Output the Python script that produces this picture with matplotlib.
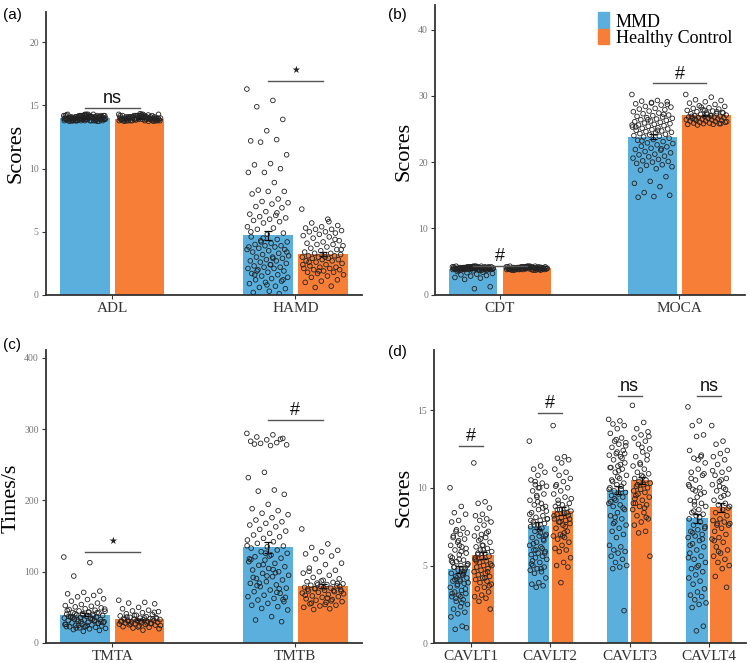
import numpy as np
import matplotlib
matplotlib.use("Agg")
import matplotlib.pyplot as plt
from matplotlib.patches import Rectangle

BLUE = "#5AAFDC"
ORANGE = "#F67E36"
SERIF = "Liberation Serif"
SANS = "Liberation Sans"

# ---- panel (a) ----
CATS_A = ["ADL", "HAMD"]
MEAN_MMD_A = [14.0, 4.72]
MEAN_HC_A = [13.97, 3.24]
SEM_MMD_A = [0.03, 0.35]
SEM_HC_A = [0.03, 0.15]
SIG_A = ["ns", "\u2605"]
SIGY_A = [14.8, 16.95]

PTS_ADL_MMD = [14.2, 13.8, 14.0, 14.1, 13.9, 14.3, 13.8, 14.0, 14.2, 13.9, 14.1, 13.75, 14.0, 14.2, 13.8,
               14.1, 13.9, 14.3, 14.0, 13.8, 14.2, 13.9, 14.1, 14.0, 13.75, 14.2, 13.9, 14.0, 14.1, 13.8,
               14.3, 14.0, 13.9, 14.2, 13.8, 14.1, 14.0, 13.9, 14.25, 13.8, 14.0, 14.1, 13.9, 14.3, 13.8,
               14.0, 14.2, 13.9, 14.1, 13.8, 14.0, 14.2, 13.75, 14.1, 13.9, 14.0, 14.2, 13.8, 14.1, 14.0,
               13.9, 14.3, 13.8, 14.0, 14.1, 13.9, 14.2, 13.8, 14.0, 14.15, 13.9, 14.2, 13.8, 14.0, 14.1,
               13.9, 14.2, 14.0, 13.8, 14.1, 13.9, 14.25, 14.0, 13.8, 14.1, 13.9, 14.05, 13.85, 14.15, 13.95]
PTS_ADL_HC = [14.3, 13.8, 14.1, 14.0, 13.9, 14.2, 13.75, 14.0, 14.3, 13.9, 14.1, 13.8, 14.0, 14.2, 13.9,
              14.1, 13.8, 14.35, 14.0, 13.9, 14.2, 13.8, 14.1, 14.0, 13.75, 14.2, 13.9, 14.0, 14.1, 13.8,
              14.3, 14.0, 13.9, 14.2, 13.8, 14.1, 14.0, 13.9, 14.2, 13.8, 14.0, 14.1, 13.9, 14.3, 13.8,
              14.0, 14.2, 13.9, 14.1, 13.8, 14.0, 14.2, 13.75, 14.1, 13.9, 14.0, 14.2, 13.8, 14.1, 14.0,
              13.9, 14.25, 13.8, 14.0, 14.1, 13.9, 14.2, 13.85, 14.05, 13.95]
PTS_HAMD_MMD = [16.3, 15.4, 14.9, 13.9, 13.0, 12.2, 12.3, 12.1, 11.1, 10.4, 10.3, 10.0, 9.7, 9.7, 8.9,
                8.3, 8.2, 8.2, 8.0, 7.6, 7.4, 7.3, 7.2, 7.0, 6.9, 6.6, 6.4, 6.3, 6.2, 6.1, 6.0, 5.9, 5.8,
                5.7, 5.4, 5.3, 5.2, 4.9, 4.8, 4.6, 4.4, 4.2, 4.2, 4.1, 4.0, 3.9, 3.9, 3.8, 3.8, 3.7, 3.6,
                3.5, 3.4, 3.3, 3.2, 3.1, 3.0, 3.0, 2.9, 2.8, 2.7, 2.7, 2.6, 2.5, 2.4, 2.3, 2.2, 2.2, 2.1,
                2.1, 2.0, 1.9, 1.8, 1.7, 1.6, 1.5, 1.4, 1.3, 1.2, 1.1, 1.0, 0.9, 0.7, 0.6, 0.5, 0.3, 0.2,
                0.1, 4.5, 3.6, 2.9, 1.9, 1.2, 0.8, 5.0, 6.5, 4.3, 3.4, 2.4, 1.6]
PTS_HAMD_HC = [6.8, 6.0, 5.7, 5.5, 5.4, 5.3, 5.2, 5.2, 5.1, 5.0, 5.0, 4.9, 4.8, 4.7, 4.6, 4.5, 4.3, 4.2,
               4.1, 4.0, 4.0, 3.9, 3.8, 3.7, 3.6, 3.5, 3.4, 3.3, 3.3, 3.2, 3.2, 3.1, 3.1, 3.0, 3.0, 2.9,
               2.9, 2.8, 2.8, 2.7, 2.7, 2.6, 2.5, 2.4, 2.3, 2.2, 2.2, 2.1, 2.1, 2.0, 2.0, 1.9, 1.8, 1.8,
               1.7, 1.6, 1.5, 1.4, 1.2, 1.1, 1.0, 0.7, 0.6, 3.6, 3.0, 2.6, 4.4, 1.9, 2.4, 5.8]

# ---- panel (b) ----
CATS_B = ["CDT", "MOCA"]
MEAN_MMD_B = [3.83, 23.83]
MEAN_HC_B = [3.98, 27.06]
SEM_MMD_B = [0.06, 0.35]
SEM_HC_B = [0.03, 0.12]
SIG_B = ["#", "#"]
SIGY_B = [4.4, 31.9]

PTS_CDT_MMD = [4.2, 3.8, 4.0, 4.1, 3.9, 4.3, 3.7, 4.0, 4.2, 3.9, 4.1, 3.8, 4.0, 4.2, 3.7, 4.1, 3.9,
               4.3, 4.0, 3.8, 4.2, 3.9, 4.1, 4.0, 3.7, 4.2, 3.9, 4.0, 4.1, 3.8, 4.3, 4.0, 3.9, 4.2,
               3.8, 4.1, 4.0, 3.9, 4.2, 3.8, 4.0, 4.1, 3.9, 4.3, 3.7, 4.0, 4.2, 3.9, 4.1, 3.8, 4.0,
               4.2, 3.7, 4.1, 3.9, 4.0, 4.2, 3.8, 4.1, 4.0, 3.9, 4.3, 3.8, 4.0, 4.1, 3.9, 4.2, 3.8,
               4.0, 4.1, 3.9, 4.2, 3.6, 3.5, 3.4, 3.3, 3.2, 3.1, 3.0, 2.9, 2.8, 2.6, 2.5, 2.3, 1.2, 0.9]
PTS_CDT_HC = [4.2, 3.8, 4.0, 4.1, 3.9, 4.3, 3.7, 4.0, 4.2, 3.9, 4.1, 3.8, 4.0, 4.2, 3.7, 4.1, 3.9,
              4.3, 4.0, 3.8, 4.2, 3.9, 4.1, 4.0, 3.7, 4.2, 3.9, 4.0, 4.1, 3.8, 4.3, 4.0, 3.9, 4.2,
              3.8, 4.1, 4.0, 3.9, 4.2, 3.8, 4.0, 4.1, 3.9, 4.3, 3.7, 4.0, 4.2, 3.9, 4.1, 3.8, 4.0,
              4.2, 3.7, 4.1, 3.9, 4.0, 4.2, 3.8, 4.1, 4.0, 3.9, 4.3, 3.8, 4.0, 4.1, 3.9, 4.2, 3.8]
PTS_MOCA_MMD = [30.2, 29.3, 29.2, 29.1, 28.9, 28.8, 28.6, 28.4, 28.3, 28.1, 28.0, 27.9, 27.7, 27.6,
                27.4, 27.3, 27.1, 27.0, 26.9, 26.8, 26.7, 26.6, 26.5, 26.4, 26.3, 26.2, 26.1, 26.0,
                25.9, 25.8, 25.7, 25.6, 25.5, 25.4, 25.3, 25.2, 25.1, 25.0, 24.9, 24.8, 24.7, 24.6,
                24.5, 24.4, 24.3, 24.2, 24.1, 24.0, 23.9, 23.8, 23.6, 23.4, 23.3, 23.1, 22.9, 22.8,
                22.6, 22.4, 22.3, 22.1, 21.9, 21.8, 21.6, 21.4, 21.2, 21.1, 20.9, 20.8, 20.6, 20.4,
                20.2, 20.1, 20.0, 19.8, 19.6, 19.5, 19.3, 19.0, 18.8, 17.8, 17.1, 16.8, 16.3, 15.4,
                15.0, 14.8, 14.7, 27.2, 26.4, 25.6, 24.8, 23.2, 28.7, 29.0, 25.3, 22.0]
PTS_MOCA_HC = [30.2, 29.8, 29.4, 29.3, 29.1, 28.9, 28.7, 28.5, 28.4, 28.2, 28.1, 28.0, 27.9, 27.8,
               27.7, 27.6, 27.5, 27.4, 27.3, 27.3, 27.2, 27.1, 27.0, 27.0, 26.9, 26.9, 26.8, 26.8,
               26.7, 26.7, 26.6, 26.6, 26.5, 26.5, 26.4, 26.4, 26.3, 26.3, 26.2, 26.2, 26.1, 26.0,
               26.0, 25.9, 25.9, 25.8, 25.8, 25.7, 25.7, 25.6, 27.4, 27.2, 26.9, 27.6, 28.3, 26.1,
               27.0, 26.5, 25.8, 27.8]

# ---- panel (c) ----
CATS_C = ["TMTA", "TMTB"]
MEAN_MMD_C = [39.9, 134.3]
MEAN_HC_C = [33.3, 79.8]
SEM_MMD_C = [2.0, 7.5]
SEM_HC_C = [1.0, 2.5]
SIG_C = ["\u2605", "#"]
SIGY_C = [127.6, 313.0]

PTS_TMTA_MMD = [120.6, 112.7, 93.9, 72.8, 71.0, 69.0, 66.7, 64.8, 62.0, 61.0, 58.7, 56.0, 54.0, 52.5,
                51.6, 50.7, 49.3, 48.0, 47.0, 46.0, 45.0, 44.6, 43.5, 42.8, 42.0, 41.2, 40.5, 40.0,
                39.3, 38.6, 37.6, 37.0, 36.2, 35.5, 35.0, 34.2, 33.6, 32.9, 32.2, 31.5, 31.0, 30.4,
                29.8, 29.0, 28.2, 27.5, 27.0, 26.2, 25.5, 24.8, 24.0, 23.5, 22.8, 22.0, 21.3, 20.5,
                19.8, 18.8, 17.6, 16.4, 45.5, 38.0, 33.0, 28.5, 24.5, 36.5, 42.5, 30.0, 26.0, 34.8,
                41.0, 29.5, 22.5, 37.2, 31.8, 25.0, 47.5, 43.0, 35.8, 27.8, 39.8, 23.0, 33.4, 21.0]
PTS_TMTA_HC = [60.0, 57.0, 56.0, 55.0, 50.0, 48.0, 46.0, 45.0, 44.0, 42.5, 41.0, 40.0, 39.0, 38.0,
               37.0, 36.0, 35.5, 35.0, 34.5, 34.0, 33.5, 33.0, 32.5, 32.0, 31.5, 31.0, 30.5, 30.0,
               29.5, 29.0, 28.5, 28.0, 27.5, 27.0, 26.5, 26.0, 25.5, 25.0, 24.0, 23.0, 22.0, 21.0,
               20.0, 18.0, 36.5, 33.8, 31.2, 29.8, 28.2, 26.8, 34.2, 30.8, 32.8, 27.2, 38.5, 24.5,
               35.2, 30.2, 43.0, 22.5]
PTS_TMTB_MMD = [294.0, 292.0, 289.0, 287.0, 285.0, 283.0, 281.0, 280.0, 278.0, 277.0, 279.0, 286.0,
                239.4, 232.0, 214.6, 213.0, 208.5, 194.5, 188.4, 185.6, 182.0, 180.0, 175.8, 172.5,
                170.0, 167.8, 165.5, 163.0, 159.4, 157.0, 153.8, 151.5, 149.0, 146.8, 144.5, 142.0,
                139.8, 136.0, 135.0, 133.0, 130.4, 128.0, 125.8, 123.4, 121.0, 119.0, 116.4, 114.0,
                111.7, 109.0, 107.0, 104.5, 102.4, 100.0, 97.7, 95.0, 93.0, 90.5, 88.4, 86.0, 83.7,
                81.5, 79.0, 77.0, 74.3, 72.0, 69.7, 67.0, 65.0, 62.5, 60.3, 58.0, 55.6, 53.0, 51.0,
                48.5, 46.3, 37.0, 32.3, 29.9, 126.0, 118.0, 98.5, 84.0, 64.0, 122.0, 92.0, 76.0,
                110.0, 136.5, 103.0, 80.5, 61.0, 94.0, 117.0, 71.0]
PTS_TMTB_HC = [160.0, 139.0, 134.0, 130.0, 128.0, 125.0, 122.0, 118.0, 112.0, 110.0, 105.0, 102.0,
               100.0, 98.0, 95.0, 92.0, 90.0, 88.0, 86.0, 85.0, 84.0, 83.0, 82.0, 81.0, 80.0, 79.0,
               78.0, 77.0, 76.0, 75.0, 74.0, 73.0, 72.0, 71.0, 70.0, 68.0, 66.0, 65.0, 64.0, 62.0,
               61.0, 60.0, 58.0, 57.0, 55.0, 53.0, 52.0, 50.0, 48.0, 47.0, 79.5, 77.5, 75.5, 73.5,
               81.5, 69.0, 63.0, 56.0, 83.5, 87.0, 67.0, 59.0, 76.5, 72.5, 54.0, 100.5]

# ---- panel (d) ----
CATS_D = ["CAVLT1", "CAVLT2", "CAVLT3", "CAVLT4"]
MEAN_MMD_D = [4.75, 7.56, 9.85, 8.03]
MEAN_HC_D = [5.67, 8.5, 10.47, 8.74]
SEM_MMD_D = [0.2, 0.22, 0.28, 0.3]
SEM_HC_D = [0.22, 0.25, 0.25, 0.3]
SIG_D = ["#", "#", "ns", "ns"]
SIGY_D = [12.7, 14.83, 15.9, 15.9]

PTS_CAV1_MMD = [10.0, 8.8, 8.4, 8.3, 7.9, 7.8, 7.4, 7.2, 7.1, 7.0, 6.9, 6.7, 6.5, 6.3, 6.2, 6.0, 5.8,
                5.7, 5.5, 5.35, 5.25, 5.1, 5.0, 4.9, 4.8, 4.7, 4.5, 4.4, 4.3, 4.2, 4.1, 4.0, 3.85, 3.7,
                3.6, 3.4, 3.3, 3.2, 3.1, 3.0, 2.8, 2.7, 2.5, 2.35, 2.2, 2.0, 1.9, 1.7, 1.1, 0.9, 1.0,
                6.3, 5.2, 4.6, 4.2, 3.9, 5.9, 4.9, 3.5, 6.6, 5.3, 4.4, 2.9, 5.0, 4.0, 6.8, 4.7, 3.8,
                5.6, 2.6, 4.1, 6.1, 5.4, 3.2, 4.5, 7.3, 5.1, 3.0]
PTS_CAV1_HC = [11.6, 9.1, 9.0, 8.7, 8.3, 8.2, 8.0, 7.9, 7.8, 7.6, 7.4, 7.2, 7.0, 6.9, 6.8, 6.6, 6.5,
               6.3, 6.2, 6.1, 6.0, 5.9, 5.8, 5.7, 5.6, 5.5, 5.4, 5.3, 5.2, 5.1, 5.0, 4.9, 4.8, 4.7,
               4.6, 4.5, 4.4, 4.3, 4.2, 4.1, 4.0, 3.9, 3.8, 3.6, 3.5, 3.3, 3.1, 3.0, 2.9, 2.7, 2.2,
               6.0, 5.3, 4.6, 6.7, 5.0, 4.2, 5.8, 3.7, 6.3, 5.5, 7.1]
PTS_CAV2_MMD = [13.0, 11.4, 11.2, 11.0, 10.8, 10.5, 10.3, 10.2, 10.1, 10.0, 9.8, 9.6, 9.4, 9.2, 9.0,
                8.9, 8.8, 8.6, 8.4, 8.2, 8.1, 8.0, 7.9, 7.8, 7.7, 7.6, 7.5, 7.4, 7.2, 7.0, 6.9, 6.8,
                6.7, 6.5, 6.3, 6.2, 6.0, 5.9, 5.8, 5.7, 5.6, 5.5, 5.4, 5.2, 5.0, 4.9, 4.8, 4.7, 4.6,
                4.5, 4.2, 3.9, 3.8, 3.7, 3.6, 8.0, 7.1, 6.4, 5.8, 9.1, 7.9, 6.1, 10.4, 8.5, 7.3, 5.3,
                6.6, 9.5, 8.3, 4.8, 7.6, 6.9, 10.0, 5.1, 8.7, 6.0]
PTS_CAV2_HC = [14.0, 12.0, 11.9, 11.8, 11.6, 11.2, 11.0, 10.8, 10.6, 10.4, 10.2, 10.0, 9.8, 9.6, 9.4,
               9.2, 9.0, 8.9, 8.8, 8.7, 8.6, 8.5, 8.4, 8.3, 8.2, 8.1, 8.0, 7.9, 7.8, 7.7, 7.6, 7.4,
               7.2, 7.0, 6.9, 6.8, 6.7, 6.5, 6.3, 6.1, 6.0, 5.9, 5.5, 5.2, 5.0, 4.9, 3.9, 8.2, 7.5,
               9.0, 8.0, 6.9, 10.1, 8.4, 7.8, 9.3, 7.1, 8.6]
PTS_CAV3_MMD = [14.4, 14.3, 14.1, 14.0, 13.8, 13.5, 13.2, 13.0, 12.9, 12.8, 12.6, 12.4, 12.2, 12.1,
                12.0, 11.8, 11.6, 11.4, 11.3, 11.2, 11.0, 10.8, 10.6, 10.4, 10.3, 10.2, 10.0, 9.9,
                9.8, 9.7, 9.6, 9.5, 9.4, 9.2, 9.0, 8.9, 8.8, 8.6, 8.4, 8.2, 8.0, 7.8, 7.6, 7.4, 7.2,
                7.0, 6.8, 6.3, 6.2, 6.0, 5.9, 5.8, 5.6, 5.4, 5.2, 5.0, 4.9, 4.8, 2.1, 12.3, 11.3,
                10.1, 9.3, 12.7, 11.1, 10.5, 8.7, 13.1, 9.9, 11.5, 7.7, 12.2, 10.7, 9.1, 11.9, 8.1]
PTS_CAV3_HC = [15.3, 14.2, 13.8, 13.6, 13.4, 13.2, 13.0, 12.8, 12.5, 12.3, 12.0, 11.8, 11.6, 11.4,
               11.2, 11.0, 10.9, 10.8, 10.6, 10.5, 10.4, 10.3, 10.2, 10.1, 10.0, 9.9, 9.8, 9.7, 9.6,
               9.4, 9.2, 9.0, 8.9, 8.8, 8.6, 8.4, 8.2, 8.0, 7.8, 7.6, 7.2, 7.1, 5.6, 10.7, 9.5,
               12.1, 11.5, 9.0, 8.7, 10.2, 13.3, 12.6, 9.3, 8.1]
PTS_CAV4_MMD = [15.2, 14.3, 14.0, 13.4, 13.3, 12.4, 12.0, 11.9, 11.6, 11.2, 11.0, 10.8, 10.5, 10.2,
                10.0, 9.9, 9.7, 9.4, 9.2, 9.0, 8.9, 8.8, 8.6, 8.4, 8.3, 8.2, 8.0, 7.8, 7.6, 7.4, 7.3,
                7.2, 7.0, 6.9, 6.8, 6.6, 6.4, 6.2, 6.0, 5.8, 5.6, 5.4, 5.2, 5.0, 4.8, 4.6, 4.4, 4.2,
                4.0, 3.8, 3.5, 3.3, 3.1, 3.0, 2.8, 2.6, 2.5, 2.3, 1.1, 0.8, 10.1, 9.6, 8.5, 7.5,
                11.8, 10.6, 6.7, 9.8, 5.5, 8.1, 7.1, 10.9, 4.9, 6.3, 12.1, 9.1]
PTS_CAV4_HC = [14.0, 13.0, 12.8, 12.4, 12.2, 12.0, 11.8, 11.5, 11.2, 11.0, 10.8, 10.6, 10.4, 10.2,
               10.0, 9.8, 9.6, 9.4, 9.2, 9.0, 8.9, 8.8, 8.6, 8.4, 8.2, 8.0, 7.9, 7.8, 7.7, 7.6, 7.4,
               7.2, 7.0, 6.8, 6.7, 6.5, 6.2, 6.0, 5.8, 5.6, 5.4, 5.2, 5.0, 4.8, 4.3, 3.6, 10.1,
               11.1, 9.5, 7.6, 8.7, 10.5, 6.6, 9.9, 5.9, 7.7]


def jitter(n, half):
    # spread points over the bar width (deterministic positions)
    return ((np.arange(n) * 0.6180339887) % 1.0 - 0.5) * 2 * half


def panel(ax, cats, m_mmd, m_hc, s_mmd, s_hc, pts_mmd, pts_hc, sig, sigy, ylim, yticks, xlim):
    x = np.arange(1, len(cats) + 1)
    off = 0.15
    w = 0.27
    ax.bar(x - off, m_mmd, w, color=BLUE, zorder=1)
    ax.bar(x + off, m_hc, w, color=ORANGE, zorder=1)
    ax.errorbar(x - off, m_mmd, yerr=s_mmd, fmt="none", ecolor="black", elinewidth=0.9,
                capsize=3, capthick=0.9, zorder=2)
    ax.errorbar(x + off, m_hc, yerr=s_hc, fmt="none", ecolor="black", elinewidth=0.9,
                capsize=3, capthick=0.9, zorder=2)
    for i in range(len(cats)):
        for pts, xc in ((pts_mmd[i], x[i] - off), (pts_hc[i], x[i] + off)):
            pts = np.asarray(pts)
            ax.scatter(xc + jitter(len(pts), 0.115), pts, s=11, facecolors="none",
                       edgecolors="#222222", linewidths=0.6, zorder=3)
        ax.plot([x[i] - off, x[i] + off], [sigy[i], sigy[i]], color="#555555", lw=1.0, zorder=4)
        if sig[i] == "\u2605":
            ax.text(x[i], sigy[i] + (ylim[1] * 0.022), sig[i], ha="center", va="bottom",
                    fontsize=7, family="DejaVu Sans", color="#222222", zorder=5)
        else:
            ax.text(x[i], sigy[i] + ylim[1] * 0.002, sig[i], ha="center", va="bottom",
                    fontsize=13, family=SANS, color="#111111", zorder=5)
    ax.set_xlim(*xlim)
    ax.set_ylim(*ylim)
    ax.set_xticks(x)
    ax.set_xticklabels(cats, family=SERIF, fontsize=11, color="#333333")
    ax.set_yticks(yticks)
    ax.set_yticklabels([str(t) for t in yticks], family=SERIF, fontsize=7, color="#777777")
    ax.tick_params(axis="both", length=3, width=0.8, color="#333333", pad=2)
    for s in ("top", "right"):
        ax.spines[s].set_visible(False)
    for s in ("left", "bottom"):
        ax.spines[s].set_color("#333333")
        ax.spines[s].set_linewidth(1.3)


W, H = 750, 663
fig = plt.figure(figsize=(W / 100, H / 100), dpi=100)


def box(l, r, t, b):
    return [l / W, 1 - b / H, (r - l) / W, (b - t) / H]


ax_a = fig.add_axes(box(45.7, 362, 12, 295))
ax_b = fig.add_axes(box(435, 745, 5, 294.7))
ax_c = fig.add_axes(box(45.7, 362, 350, 643))
ax_d = fig.add_axes(box(434, 746, 350, 643.3))

panel(ax_a, CATS_A, MEAN_MMD_A, MEAN_HC_A, SEM_MMD_A, SEM_HC_A,
      [PTS_ADL_MMD, PTS_HAMD_MMD], [PTS_ADL_HC, PTS_HAMD_HC], SIG_A, SIGY_A,
      (0, 22.4), [0, 5, 10, 15, 20], (0.636, 2.364))
panel(ax_b, CATS_B, MEAN_MMD_B, MEAN_HC_B, SEM_MMD_B, SEM_HC_B,
      [PTS_CDT_MMD, PTS_MOCA_MMD], [PTS_CDT_HC, PTS_MOCA_HC], SIG_B, SIGY_B,
      (0, 43.7), [0, 10, 20, 30, 40], (0.638, 2.365))
panel(ax_c, CATS_C, MEAN_MMD_C, MEAN_HC_C, SEM_MMD_C, SEM_HC_C,
      [PTS_TMTA_MMD, PTS_TMTB_MMD], [PTS_TMTA_HC, PTS_TMTB_HC], SIG_C, SIGY_C,
      (0, 411), [0, 100, 200, 300, 400], (0.636, 2.364))
panel(ax_d, CATS_D, MEAN_MMD_D, MEAN_HC_D, SEM_MMD_D, SEM_HC_D,
      [PTS_CAV1_MMD, PTS_CAV2_MMD, PTS_CAV3_MMD, PTS_CAV4_MMD],
      [PTS_CAV1_HC, PTS_CAV2_HC, PTS_CAV3_HC, PTS_CAV4_HC], SIG_D, SIGY_D,
      (0, 18.86), [0, 5, 10, 15], (0.533, 4.467))

# axis titles and panel letters
for x, y, s in ((15.5, 153, "Scores"), (404.5, 151, "Scores"),
                (11, 498, "Times/s"), (404.5, 497, "Scores")):
    fig.text(x / W, 1 - y / H, s, rotation=90, ha="center", va="center",
             family=SERIF, fontsize=16, color="black")
for x, y, s in ((3, 15, "(a)"), (388, 15, "(b)"), (3, 345, "(c)"), (388, 352, "(d)")):
    fig.text(x / W, 1 - y / H, s, ha="left", va="center", family=SANS, fontsize=11)

# legend
fig.patches.append(Rectangle((597.7 / W, 1 - 28 / H), 11.6 / W, 15.7 / H,
                             transform=fig.transFigure, color=BLUE))
fig.patches.append(Rectangle((597.7 / W, 1 - 44.3 / H), 11.6 / W, 15.3 / H,
                             transform=fig.transFigure, color=ORANGE))
fig.text(615.7 / W, 1 - 26.7 / H, "MMD", ha="left", va="baseline", family=SERIF, fontsize=13)
fig.text(615.7 / W, 1 - 42.7 / H, "Healthy Control", ha="left", va="baseline",
         family=SERIF, fontsize=13)

fig.savefig("out.png", dpi=100, facecolor="white")
